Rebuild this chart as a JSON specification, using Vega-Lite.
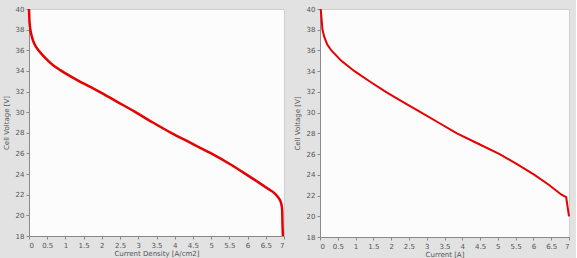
{
  "$schema": "https://vega.github.io/schema/vega-lite/v6.json",
  "background": "#e2e2e2",
  "padding": {"left": 1, "top": 3, "right": 2, "bottom": 0},
  "spacing": 3,
  "datasets": {
    "density": [
      {"x": 0, "v": 40}, {"x": 0.01, "v": 39}, {"x": 0.03, "v": 38.2}, {"x": 0.08, "v": 37.3},
      {"x": 0.15, "v": 36.6}, {"x": 0.26, "v": 36}, {"x": 0.38, "v": 35.5}, {"x": 0.52, "v": 35},
      {"x": 0.68, "v": 34.5}, {"x": 0.87, "v": 34.05}, {"x": 1.3, "v": 33.15}, {"x": 1.9, "v": 32.05},
      {"x": 2.4, "v": 31.05}, {"x": 2.9, "v": 30.05}, {"x": 3.4, "v": 29}, {"x": 3.9, "v": 28},
      {"x": 4.45, "v": 27}, {"x": 5.0, "v": 26}, {"x": 5.5, "v": 25}, {"x": 5.95, "v": 24},
      {"x": 6.3, "v": 23.2}, {"x": 6.55, "v": 22.6}, {"x": 6.75, "v": 22.1}, {"x": 6.85, "v": 21.7},
      {"x": 6.92, "v": 21.2}, {"x": 6.95, "v": 20.5}, {"x": 6.96, "v": 19}, {"x": 6.97, "v": 18}
    ],
    "current": [
      {"x": 0.02, "v": 40}, {"x": 0.07, "v": 38}, {"x": 0.12, "v": 37.3}, {"x": 0.2, "v": 36.6},
      {"x": 0.32, "v": 36}, {"x": 0.6, "v": 35}, {"x": 0.97, "v": 34}, {"x": 1.4, "v": 33},
      {"x": 1.85, "v": 32}, {"x": 2.35, "v": 31}, {"x": 2.85, "v": 30}, {"x": 3.35, "v": 29},
      {"x": 3.85, "v": 28}, {"x": 4.45, "v": 27}, {"x": 5.05, "v": 26}, {"x": 5.55, "v": 25},
      {"x": 6.03, "v": 24}, {"x": 6.45, "v": 23}, {"x": 6.78, "v": 22.1}, {"x": 6.92, "v": 21.85},
      {"x": 7.0, "v": 20.0}
    ]
  },
  "config": {
    "view": {"fill": "#fcfcfc", "stroke": "#cfcfcf"},
    "font": "DejaVu Sans",
    "axis": {
      "grid": false,
      "labelFontSize": 7,
      "labelColor": "#555555",
      "titleFontSize": 7,
      "titleFontWeight": "normal",
      "titleColor": "#555555",
      "domainColor": "#8a8a8a",
      "tickColor": "#8a8a8a",
      "tickSize": 3,
      "labelPadding": 2
    },
    "axisX": {"titlePadding": 1},
    "axisY": {"titlePadding": 6}
  },
  "hconcat": [
    {
      "width": 255,
      "height": 227,
      "data": {"name": "density"},
      "mark": {"type": "line", "color": "#e60000", "strokeWidth": 2.5, "interpolate": "monotone"},
      "encoding": {
        "x": {
          "field": "x", "type": "quantitative",
          "scale": {"domain": [0, 7], "nice": false},
          "axis": {"title": "Current Density [A/cm2]", "values": [0,0.5,1,1.5,2,2.5,3,3.5,4,4.5,5,5.5,6,6.5,7], "format": "~g"}
        },
        "y": {
          "field": "v", "type": "quantitative",
          "scale": {"domain": [18, 40], "nice": false, "zero": false},
          "axis": {"title": "Cell Voltage [V]", "values": [18,20,22,24,26,28,30,32,34,36,38,40]}
        },
        "order": {"field": "v", "sort": "descending"}
      }
    },
    {
      "width": 249,
      "height": 228,
      "data": {"name": "current"},
      "mark": {"type": "line", "color": "#e60000", "strokeWidth": 2},
      "encoding": {
        "x": {
          "field": "x", "type": "quantitative",
          "scale": {"domain": [0, 7], "nice": false},
          "axis": {"title": "Current [A]", "values": [0,0.5,1,1.5,2,2.5,3,3.5,4,4.5,5,5.5,6,6.5,7], "format": "~g"}
        },
        "y": {
          "field": "v", "type": "quantitative",
          "scale": {"domain": [18, 40], "nice": false, "zero": false},
          "axis": {"title": "Cell Voltage [V]", "values": [18,20,22,24,26,28,30,32,34,36,38,40]}
        },
        "order": {"field": "v", "sort": "descending"}
      }
    }
  ]
}
